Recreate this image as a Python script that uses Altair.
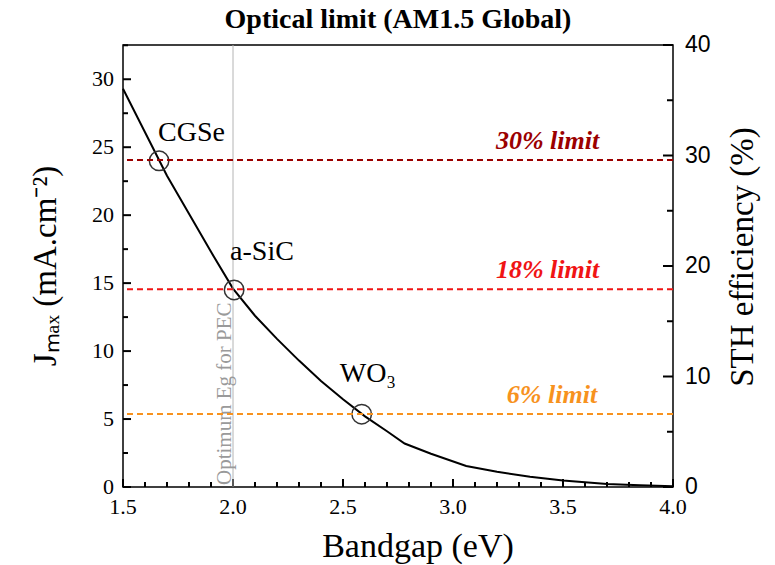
import altair as alt
import pandas as pd

# ---------------- data ----------------
bandgap_ev = [1.5, 1.6, 1.7, 1.8, 1.9, 2.0, 2.1, 2.2, 2.3, 2.4, 2.5, 2.6, 2.7, 2.78,
              2.9, 3.06, 3.2, 3.35, 3.5, 3.7, 3.85, 4.0]
jmax_ma = [29.3, 26.1, 22.9, 20.1, 17.3, 14.6, 12.6, 10.9, 9.3, 7.8, 6.45, 5.2, 4.1, 3.2,
           2.45, 1.55, 1.12, 0.75, 0.47, 0.22, 0.12, 0.05]

material_names = ["CGSe", "a-SiC", "WO₃"]
material_eg = [1.664, 2.005, 2.585]
material_jmax = [24.0, 14.5, 5.36]

limit_names = ["30% limit", "18% limit", "6% limit"]
limit_sth = [29.6, 17.9, 6.6]
limit_label_eg = [3.43, 3.43, 3.45]
limit_colors = ["#9b0000", "#f01414", "#f7921e"]

optimum_eg = [2.0]
optimum_j = [0.0]
optimum_text = ["Optimum Eg for PEC"]

x_major_ticks = [1.5, 2.0, 2.5, 3.0, 3.5, 4.0]
x_minor_ticks = [round(1.5 + 0.1 * i, 1) for i in range(26) if i % 5 != 0]
jmax_major_ticks = [0, 5, 10, 15, 20, 25, 30]
jmax_minor_ticks = [2.5, 7.5, 12.5, 17.5, 22.5, 27.5, 32.5]
sth_major_ticks = [0, 10, 20, 30, 40]
sth_minor_ticks = [5, 15, 25, 35]

chart_title = ["Optical limit (AM1.5 Global)"]
x_title = ["Bandgap (eV)"]
yl_title = ["Jₘₐₓ (mA.cm⁻²)"]
yr_title = ["STH efficiency (%)"]

# ---------------- layout / style ----------------
W, H = 550, 442
SERIF = "Liberation Serif"
SANS = "Liberation Sans"

x_scale = alt.Scale(domain=[1.5, 4.0], nice=False, zero=False)
yl_scale = alt.Scale(domain=[0, 32.52], nice=False, zero=True)
yr_scale = alt.Scale(domain=[0, 40], nice=False, zero=True)

X = alt.X("eg:Q", scale=x_scale, axis=None)
YL = alt.Y("j:Q", scale=yl_scale, axis=None)
YR = alt.Y("sth:Q", scale=yr_scale, axis=None)

curve_df = pd.DataFrame({"eg": bandgap_ev, "j": jmax_ma})
mat_df = pd.DataFrame({"eg": material_eg, "j": material_jmax, "name": material_names})
lim_df = pd.DataFrame({"eg": limit_label_eg, "sth": limit_sth,
                       "name": limit_names, "color": limit_colors})
opt_df = pd.DataFrame({"eg": optimum_eg, "j": optimum_j, "text": optimum_text})


def one_text(txt):
    return alt.Chart(pd.DataFrame({"t": txt}))


# ---- inward axis ticks (major / minor), placed along each axis by its scale ----
def x_ticks_layer(vals, length, name):
    return alt.Chart(pd.DataFrame({name: vals})).mark_rule(
        color="black", strokeWidth=2
    ).encode(x=alt.X(f"{name}:Q", scale=x_scale, axis=None),
             y=alt.value(H), y2=alt.value(H - length))


def yl_ticks_layer(vals, length, name):
    return alt.Chart(pd.DataFrame({name: vals})).mark_rule(
        color="black", strokeWidth=2
    ).encode(y=alt.Y(f"{name}:Q", scale=yl_scale, axis=None),
             x=alt.value(0), x2=alt.value(length))


def yr_ticks_layer(vals, length, name):
    return alt.Chart(pd.DataFrame({name: vals})).mark_rule(
        color="black", strokeWidth=2
    ).encode(y=alt.Y(f"{name}:Q", scale=yr_scale, axis=None),
             x=alt.value(W - length), x2=alt.value(W))


# ---- tick labels (through the scales) ----
x_labels = alt.Chart(pd.DataFrame({
    "eg": x_major_ticks, "t": [f"{v:.1f}" for v in x_major_ticks]
})).mark_text(font=SERIF, fontSize=22, align="center", baseline="top", dy=10,
              color="black").encode(x=X, y=alt.value(H), text="t:N")

yl_labels = alt.Chart(pd.DataFrame({
    "j": jmax_major_ticks, "t": [str(v) for v in jmax_major_ticks]
})).mark_text(font=SERIF, fontSize=22, align="right", baseline="middle", dx=-9,
              color="black").encode(y=YL, x=alt.value(0), text="t:N")

yr_labels = alt.Chart(pd.DataFrame({
    "sth": sth_major_ticks, "t": [str(v) for v in sth_major_ticks]
})).mark_text(font=SANS, fontSize=23, align="left", baseline="middle", dx=12,
              color="black").encode(y=YR, x=alt.value(W), text="t:N")

# ---- titles ----
title_mark = one_text(chart_title).mark_text(
    font=SERIF, fontSize=28, fontWeight="bold", align="center", baseline="alphabetic",
    color="black"
).encode(x=alt.value(W / 2), y=alt.value(-17), text="t:N")

x_title_mark = one_text(x_title).mark_text(
    font=SERIF, fontSize=34, align="center", baseline="alphabetic", color="black"
).encode(x=alt.value(295), y=alt.value(H + 70), text="t:N")

yl_title_mark = one_text(yl_title).mark_text(
    font=SERIF, fontSize=33, angle=270, align="center", baseline="alphabetic", color="black"
).encode(x=alt.value(-67), y=alt.value(221), text="t:N")

yr_title_mark = one_text(yr_title).mark_text(
    font=SERIF, fontSize=33, angle=270, align="center", baseline="alphabetic", color="black"
).encode(x=alt.value(W + 80), y=alt.value(212), text="t:N")

# ---- data marks ----
curve = alt.Chart(curve_df).mark_line(color="black", strokeWidth=2).encode(x=X, y=YL)

vline = alt.Chart(opt_df).mark_rule(color="#b4b4b4", strokeWidth=1).encode(x=X)

vtext = alt.Chart(opt_df).mark_text(
    angle=270, align="left", baseline="alphabetic", dx=2, dy=-2,
    font=SERIF, fontSize=21, color="#9a9a9a"
).encode(x=X, y=YL, text="text:N")

circles = alt.Chart(mat_df).mark_point(
    shape="circle", size=380, filled=False, color="#333333", strokeWidth=1.5, opacity=1
).encode(x=X, y=YL)

label_offsets = {"CGSe": (-1, -20), "a-SiC": (-4, -30), "WO₃": (-22, -32)}
mat_labels = [
    alt.Chart(mat_df).transform_filter(alt.datum.name == nm).mark_text(
        align="left", baseline="alphabetic", dx=dx, dy=dy,
        font=SERIF, fontSize=28, color="black"
    ).encode(x=X, y=YL, text="name:N")
    for nm, (dx, dy) in label_offsets.items()
]

left = alt.layer(
    x_ticks_layer(x_minor_ticks, 5, "xtmin"), x_ticks_layer(x_major_ticks, 8, "xtmaj"),
    yl_ticks_layer(jmax_minor_ticks, 5, "yltmin"), yl_ticks_layer(jmax_major_ticks, 8, "yltmaj"),
    curve, vline, vtext, circles, *mat_labels,
    x_labels, yl_labels, title_mark, x_title_mark, yl_title_mark, yr_title_mark,
)

lim_lines = alt.Chart(lim_df).mark_rule(strokeDash=[6, 4], strokeWidth=2).encode(
    y=YR, color=alt.Color("color:N", scale=None)
)
lim_text = alt.Chart(lim_df).mark_text(
    font=SERIF, fontSize=26, fontStyle="italic", fontWeight="bold",
    align="center", baseline="alphabetic", dy=-11
).encode(x=X, y=YR, text="name:N", color=alt.Color("color:N", scale=None))

right = alt.layer(
    yr_ticks_layer(sth_minor_ticks, 6, "yrtmin"), yr_ticks_layer(sth_major_ticks, 10, "yrtmaj"),
    lim_lines, lim_text, yr_labels,
)

chart = alt.layer(left, right).resolve_scale(y="independent").properties(
    width=W, height=H,
    autosize=alt.AutoSizeParams(type="none"),
    padding={"left": 123, "top": 45, "right": 102, "bottom": 78},
).configure_view(
    stroke="black", strokeWidth=1.5
)

chart.save("out.html", embed_options={"renderer": "svg", "actions": False})
